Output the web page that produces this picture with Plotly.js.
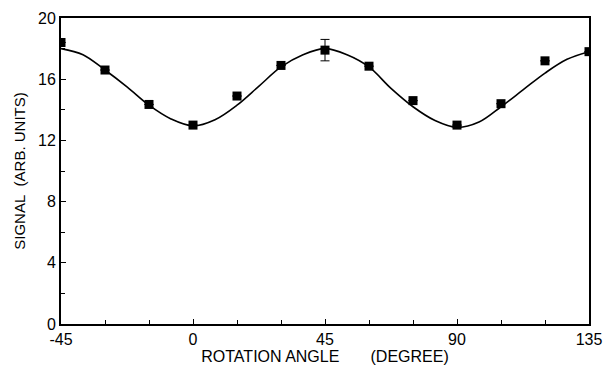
<!DOCTYPE html>
<html><head><meta charset="utf-8">
<script src="https://cdn.plot.ly/plotly-3.0.1.min.js"></script>
<style>body{margin:0;background:#fff}#c{width:608px;height:367px}</style>
</head><body><div id="c"></div>
<script>
const angles = [-45,-30,-15,0,15,30,45,60,75,90,105,120,135];
const signal = [18.4,16.6,14.35,13.0,14.9,16.9,17.9,16.85,14.6,13.0,14.4,17.2,17.8];
const errPlus = [0,0,0,0,0,0,0.7,0,0,0,0,0,0];
const errMinus = [0,0,0,0,0,0,0.7,0,0,0,0,0,0];
const fitAngles = [-45,-37.5,-30,-22.5,-15,-7.5,0,7.5,15,22.5,30,37.5,45,52.5,60,67.5,75,82.5,90,97.5,105,112.5,120,127.5,135];
const fitSignal = [18.0,17.6,16.6,15.5,14.3,13.4,12.95,13.35,14.3,15.55,16.8,17.6,18.0,17.6,16.8,15.4,14.2,13.3,12.85,13.2,14.2,15.3,16.4,17.3,17.8];
const xTickVals = [-45,0,45,90,135];
const yTickVals = [0,4,8,12,16,20];

const font = {family:'"Liberation Sans", Arial, sans-serif', color:'#000'};
Plotly.newPlot('c', [
  {x: fitAngles, y: fitSignal, mode:'lines', line:{color:'#000', width:1.6, shape:'spline', smoothing:1}, hoverinfo:'skip'},
  {x: angles, y: signal, mode:'markers', marker:{symbol:'square', size:9, color:'#000'},
   error_y:{type:'data', symmetric:false, array: errPlus, arrayminus: errMinus, color:'#000', thickness:1, width:4.5}}
], {
  width:608, height:367, showlegend:false,
  paper_bgcolor:'#fff', plot_bgcolor:'#fff',
  margin:{l:61, r:19, t:18, b:43},
  font: Object.assign({size:16}, font),
  xaxis:{range:[-45,135], tickvals:xTickVals, ticktext:xTickVals.map(String), ticks:'inside', ticklen:5, tickcolor:'#000',
    showline:true, linecolor:'#000', linewidth:2, mirror:true, showgrid:false, zeroline:false,
    minor:{tick0:-45, dtick:15, ticks:'inside', ticklen:4, tickcolor:'#000', showgrid:false},
    tickfont:Object.assign({size:16}, font),
    title:{text:'ROTATION ANGLE&nbsp;&nbsp;&nbsp;&nbsp;&nbsp;&nbsp;&nbsp;(DEGREE)', font:Object.assign({size:16}, font), standoff:0}},
  yaxis:{range:[0,20], tickvals:yTickVals, ticktext:yTickVals.map(String), ticks:'inside', ticklen:5, tickcolor:'#000',
    showline:true, linecolor:'#000', linewidth:2, mirror:true, showgrid:false, zeroline:false,
    minor:{dtick:2, ticks:'inside', ticklen:4, tickcolor:'#000', showgrid:false},
    tickfont:Object.assign({size:16}, font),
    title:{text:'SIGNAL&nbsp;&nbsp;(ARB. UNITS)', font:Object.assign({size:15}, font), standoff:9}}
}, {staticPlot:true});
</script></body></html>
